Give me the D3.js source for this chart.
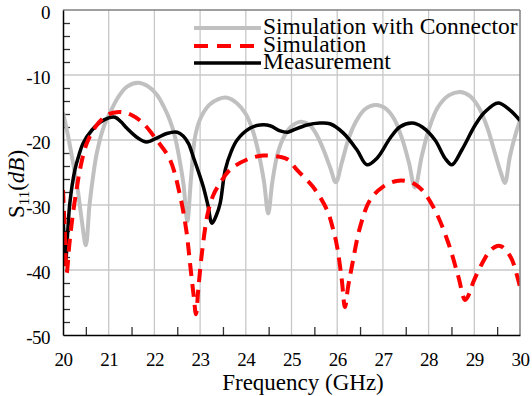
<!DOCTYPE html>
<html>
<head>
<meta charset="utf-8">
<script src="https://cdn.jsdelivr.net/npm/d3@7"></script>
<style>
  body { margin: 0; background: #fff; }
  svg text { font-family: "Liberation Serif", "Times New Roman", serif; fill: #000; }
</style>
</head>
<body>
<svg id="chart" width="532" height="396"></svg>
<script>
// Simulation with Connector
const connFreq = [20.0, 20.1, 20.22, 20.32, 20.41, 20.5, 20.58, 20.66, 20.74, 20.88, 21.03, 21.2, 21.4, 21.64, 21.85, 22.05, 22.2, 22.34, 22.45, 22.55, 22.64, 22.72, 22.8, 22.89, 23.0, 23.2, 23.4, 23.59, 23.8, 24.0, 24.15, 24.28, 24.4, 24.49, 24.58, 24.7, 24.85, 25.0, 25.2, 25.4, 25.55, 25.7, 25.85, 25.97, 26.1, 26.25, 26.4, 26.6, 26.85, 27.05, 27.25, 27.42, 27.57, 27.7, 27.85, 28.0, 28.2, 28.45, 28.69, 28.9, 29.1, 29.28, 29.45, 29.58, 29.67, 29.78, 29.9, 30.0];
const connS11 = [-15.8, -19, -23.5, -27.5, -32.3, -36.2, -30, -25.5, -22, -18.2, -15.8, -13.5, -11.8, -11.2, -11.7, -13, -14.8, -17, -19.5, -23, -27, -32.5, -26, -19.5, -16.8, -14.6, -13.7, -13.5, -14.3, -16, -18.5, -22, -26.5, -31.3, -26.5, -22, -19.3, -17.9, -17.2, -17.7, -19.2, -21.5, -24.3, -26.5, -23.5, -19.8, -17.3, -15.3, -14.6, -15.1, -16.8, -19.8, -23.5, -27.3, -22.5, -18.5, -15, -13.1, -12.6, -13.2, -15, -18, -22, -25, -26.6, -22.5, -19.2, -17];

// Simulation
const simFreq = [20.0, 20.04, 20.08, 20.14, 20.22, 20.3, 20.37, 20.52, 20.74, 20.96, 21.1, 21.29, 21.51, 21.75, 22.05, 22.34, 22.56, 22.7, 22.78, 22.86, 22.91, 22.96, 23.04, 23.17, 23.3, 23.44, 23.65, 24.03, 24.38, 24.75, 24.92, 25.12, 25.47, 25.78, 25.92, 26.0, 26.1, 26.17, 26.24, 26.32, 26.5, 26.72, 27.0, 27.3, 27.5, 27.7, 27.86, 28.14, 28.43, 28.65, 28.8, 28.9, 28.97, 29.17, 29.35, 29.5, 29.6, 29.72, 29.83, 30.0];
const simS11 = [-27.7, -34, -40.5, -36, -31.2, -27.5, -24.6, -20.5, -17.7, -16.2, -15.8, -15.7, -16.2, -17.4, -20, -23, -28.5, -34, -39, -44, -46.8, -43, -37.4, -31.2, -28.3, -26.6, -24.6, -23, -22.4, -22.6, -23, -24.6, -27.2, -30.8, -34, -36.5, -41.5, -45.7, -42.5, -39.5, -33.4, -29.2, -27.2, -26.3, -26.3, -26.8, -27.7, -30.8, -35.8, -41, -44.6, -43.5, -42, -39, -37, -36.3, -36.4, -37.2, -38.5, -42.6];

// Measurement
const measFreq = [20.0, 20.03, 20.06, 20.1, 20.15, 20.26, 20.35, 20.44, 20.63, 20.81, 21.0, 21.14, 21.27, 21.4, 21.64, 21.83, 22.05, 22.27, 22.5, 22.63, 22.75, 22.85, 22.96, 23.07, 23.17, 23.26, 23.36, 23.44, 23.55, 23.68, 23.81, 24.09, 24.31, 24.53, 24.75, 24.92, 25.03, 25.34, 25.62, 25.84, 26.13, 26.43, 26.65, 26.87, 27.16, 27.37, 27.64, 27.86, 28.14, 28.36, 28.51, 28.73, 29.02, 29.23, 29.52, 29.78, 30.0];
const measS11 = [-31, -36, -38.5, -34.5, -29.7, -24.6, -22.3, -20.5, -18.5, -17.3, -16.6, -16.5, -17.2, -18.2, -19.7, -20.3, -19.7, -19.0, -18.8, -19.4, -20.6, -22.6, -24.8, -27.2, -30, -32.8, -31.5, -29.7, -24.6, -21.8, -20, -18.2, -17.7, -17.8, -18.6, -18.8, -18.5, -17.7, -17.4, -17.5, -18.9, -21.5, -23.8, -22.8, -19.7, -18.0, -17.4, -18, -20, -22.8, -23.8, -21.5, -17.7, -15.7, -14.3, -15.4, -17];

const seriesNames = ["Simulation with Connector", "Simulation", "Measurement"];
const xTicks = [20, 21, 22, 23, 24, 25, 26, 27, 28, 29, 30];
const yTicks = [0, -10, -20, -30, -40, -50];

const width = 532, height = 396;
const margin = { top: 10, right: 12, bottom: 61, left: 63 };
const serif = "Liberation Serif, Times New Roman, serif";

const svg = d3.select("#chart");

const x = d3.scaleLinear().domain([20, 30]).range([margin.left, width - margin.right]);
const y = d3.scaleLinear().domain([-50, 0]).range([height - margin.bottom, margin.top]);

// 网格
const grid = svg.append("g");
grid.selectAll(".vg")
  .data(xTicks.slice(1, -1))
  .enter().append("line")
  .attr("x1", d => x(d)).attr("x2", d => x(d))
  .attr("y1", y(0)).attr("y2", y(-50))
  .attr("stroke", "#c8c8c8").attr("stroke-width", 1.3);
grid.selectAll(".hg")
  .data(yTicks.slice(1, -1))
  .enter().append("line")
  .attr("x1", x(20)).attr("x2", x(30))
  .attr("y1", d => y(d)).attr("y2", d => y(d))
  .attr("stroke", "#c8c8c8").attr("stroke-width", 1.3);

// 次刻度（向内）
const minorY = d3.range(-48, 0, 2).filter(d => d % 10 !== 0);
svg.append("g")
  .attr("transform", `translate(${margin.left},0)`)
  .call(d3.axisRight(y).tickValues(minorY).tickSize(7).tickFormat(""))
  .call(g => g.select(".domain").remove())
  .call(g => g.selectAll("line").attr("stroke", "#333").attr("stroke-width", 1.3));

const minorX = d3.range(20.5, 30, 1);
svg.append("g")
  .attr("transform", `translate(0,${y(-50)})`)
  .call(d3.axisTop(x).tickValues(minorX).tickSize(8).tickFormat(""))
  .call(g => g.select(".domain").remove())
  .call(g => g.selectAll("line").attr("stroke", "#333").attr("stroke-width", 1.3));

// 曲线
svg.append("clipPath").attr("id", "clip")
  .append("rect")
  .attr("x", x(20)).attr("y", y(0))
  .attr("width", x(30) - x(20)).attr("height", y(-50) - y(0));

const line = d3.line()
  .x(d => x(d[0]))
  .y(d => y(d[1]))
  .curve(d3.curveCatmullRom.alpha(0.5));

const plot = svg.append("g").attr("clip-path", "url(#clip)");

plot.append("path")
  .datum(d3.zip(connFreq, connS11))
  .attr("d", line)
  .attr("fill", "none")
  .attr("stroke", "#c0c0c0")
  .attr("stroke-width", 4)
  .attr("stroke-linejoin", "round");

plot.append("path")
  .datum(d3.zip(measFreq, measS11))
  .attr("d", line)
  .attr("fill", "none")
  .attr("stroke", "#000")
  .attr("stroke-width", 3.5)
  .attr("stroke-linejoin", "round");

plot.append("path")
  .datum(d3.zip(simFreq, simS11))
  .attr("d", line)
  .attr("fill", "none")
  .attr("stroke", "#ff0000")
  .attr("stroke-width", 4)
  .attr("stroke-dasharray", "13,8");

// 边框
svg.append("line")
  .attr("x1", x(20)).attr("x2", x(30)).attr("y1", y(0)).attr("y2", y(0))
  .attr("stroke", "#808080").attr("stroke-width", 1.5);
svg.append("line")
  .attr("x1", x(30)).attr("x2", x(30)).attr("y1", y(0)).attr("y2", y(-50))
  .attr("stroke", "#808080").attr("stroke-width", 1.5);

// 坐标轴
const xAxis = svg.append("g")
  .attr("transform", `translate(0,${y(-50)})`)
  .call(d3.axisBottom(x).tickValues(xTicks).tickSize(0).tickPadding(0).tickFormat(d3.format("d")))
  .attr("font-family", serif)
  .attr("font-size", 19);
xAxis.select(".domain").attr("stroke", "#000").attr("stroke-width", 1.5);
xAxis.selectAll("text")
  .attr("y", 24)
  .attr("dy", "0.35em")
  .style("letter-spacing", "-0.5px");

const yAxis = svg.append("g")
  .attr("transform", `translate(${margin.left},0)`)
  .call(d3.axisLeft(y).tickValues(yTicks).tickSize(0).tickPadding(0).tickFormat(d3.format("d")))
  .attr("font-family", serif)
  .attr("font-size", 19);
yAxis.select(".domain").attr("stroke", "#000").attr("stroke-width", 1.5);
yAxis.selectAll("text")
  .attr("x", -13)
  .attr("dy", "0.45em")
  .style("letter-spacing", "-0.5px")
  .text(d => d === 0 ? "0" : "-" + Math.abs(d));

// 轴标题
svg.append("text")
  .attr("x", 303)
  .attr("y", 390)
  .attr("text-anchor", "middle")
  .style("font-size", "23px")
  .text("Frequency (GHz)");

const yTitle = svg.append("text")
  .attr("transform", "translate(24,184) rotate(-90)")
  .attr("text-anchor", "middle")
  .style("font-size", "23px");
yTitle.append("tspan").text("S");
yTitle.append("tspan").attr("dy", 5).style("font-size", "15px").text("11");
yTitle.append("tspan").attr("dy", -5).text("(");
yTitle.append("tspan").style("font-style", "italic").text("dB");
yTitle.append("tspan").text(")");

// 图例
const legendStyles = [
  { stroke: "#c0c0c0", width: 4, dash: null },
  { stroke: "#ff0000", width: 4, dash: "14,9" },
  { stroke: "#000", width: 3.5, dash: null }
];
const legendY = [28, 46, 63];

const legend = svg.selectAll(".legend")
  .data(seriesNames)
  .enter().append("g")
  .attr("class", "legend")
  .attr("transform", (d, i) => `translate(0,${legendY[i]})`);

legend.append("line")
  .attr("x1", 194).attr("x2", 261)
  .attr("y1", 0).attr("y2", 0)
  .attr("stroke", (d, i) => legendStyles[i].stroke)
  .attr("stroke-width", (d, i) => legendStyles[i].width)
  .attr("stroke-dasharray", (d, i) => legendStyles[i].dash);

legend.append("text")
  .attr("x", 263)
  .attr("y", 6)
  .style("font-size", "23.5px")
  .text(d => d);
</script>
</body>
</html>
